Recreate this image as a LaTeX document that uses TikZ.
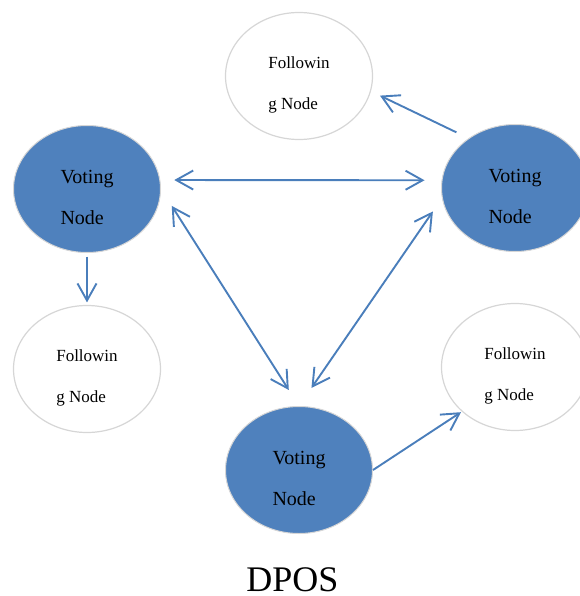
\documentclass[tikz,border=0pt]{standalone}
\usepackage{fontspec}
\setmainfont{Liberation Serif}
\usepackage{tikz}
\usetikzlibrary{shapes.geometric, arrows.meta, positioning}
\definecolor{votingblue}{RGB}{79, 129, 189}
\definecolor{linkblue}{RGB}{74, 126, 187}
\definecolor{rimgray}{RGB}{214, 214, 214}
\tikzstyle{voting} = [ellipse, draw=rimgray, line width=1pt, fill=votingblue, minimum width=147pt, minimum height=127pt, align=left, text height=70.3pt, font=\fontsize{20}{40.7}\selectfont]
\tikzstyle{following} = [ellipse, draw=rimgray, line width=1.2pt, fill=white, minimum width=147pt, minimum height=127pt, align=left, text height=70.4pt, font=\fontsize{17}{40.7}\selectfont]
\tikzstyle{line} = [draw, -{Straight Barb[length=17pt, width=19pt]}, line width=1.9pt, linkblue]
\tikzstyle{biline} = [draw, {Straight Barb[length=17pt, width=19pt]}-{Straight Barb[length=17pt, width=19pt]}, line width=1.9pt, linkblue]

\begin{document}
\begin{tikzpicture}[x=1pt, y=-1pt]
    \useasboundingbox (0,0) rectangle (579,596);
    \node (vl) [voting] at (87,189) {Voting\\Node};
    \node (vr) [voting] at (515,188) {Voting\\Node};
    \node (vb) [voting] at (299,470) {Voting\\Node};
    \node (ft) [following] at (299,76) {Followin\\g Node};
    \node (fl) [following] at (87,369) {Followin\\g Node};
    \node (fr) [following] at (515,367) {Followin\\g Node};

    \draw [line, shorten <=13.5pt, shorten >=10pt] (vr.133) -- (ft.-12);
    \draw [line, shorten <=3.5pt, shorten >=2.5pt] (vl.south) -- (fl.north);
    \draw [line, shorten >=1pt] (vb.east) -- (fr.220);

    \draw [biline, shorten <=14pt, shorten >=17pt] (vl.7) -- (vr.174);
    \draw [biline, shorten <=20pt, shorten >=19pt] (vl.east) -- (vb.north);
    \draw [biline, shorten <=16pt, shorten >=22pt] (vr.188) -- (vb.north);

    \node (title) [inner sep=0pt, font=\fontsize{36}{43}\selectfont] at (292.5,579.5) {DPOS};
\end{tikzpicture}
\end{document}
